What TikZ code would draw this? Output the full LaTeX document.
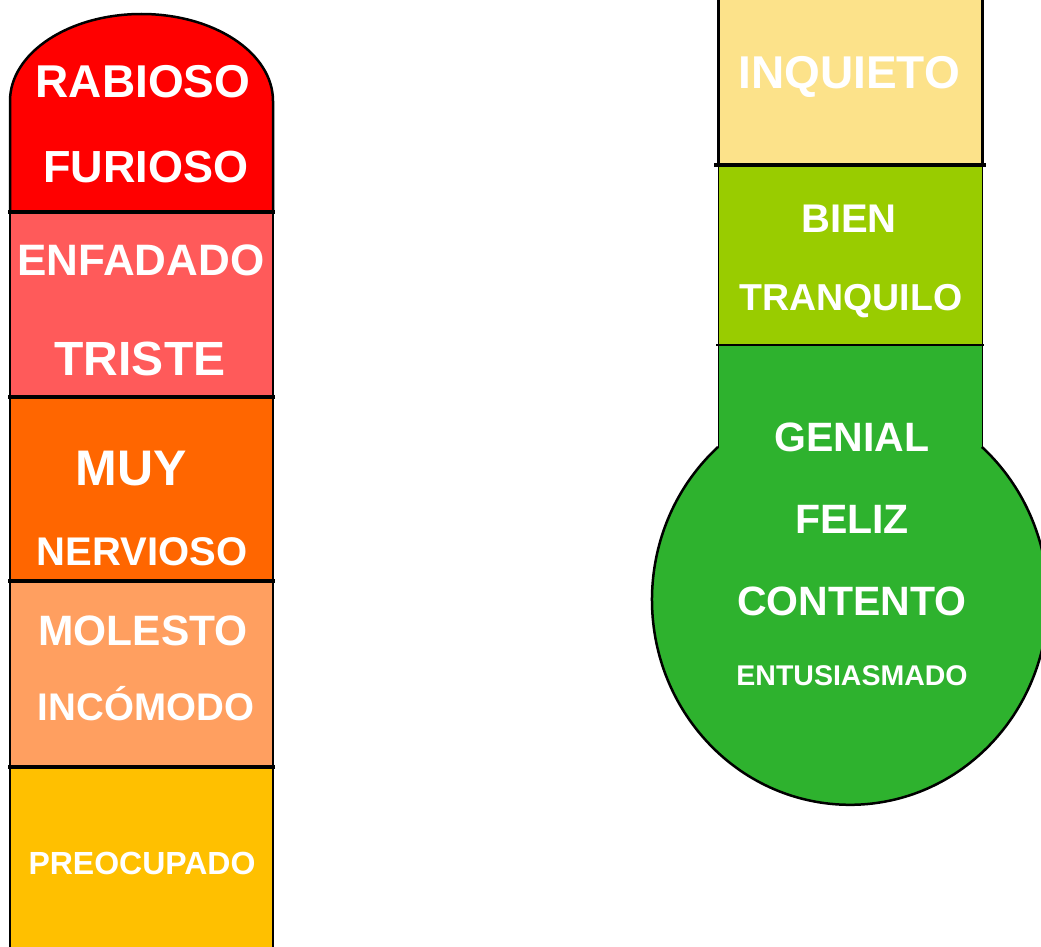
\documentclass[tikz,border=0pt]{standalone}
\usepackage{fontspec}
\setmainfont{Liberation Sans}
\definecolor{cRed}{HTML}{FF0000}
\definecolor{cSalmon}{HTML}{FF5A5A}
\definecolor{cOrange}{HTML}{FF6600}
\definecolor{cLightOrange}{HTML}{FF9F60}
\definecolor{cYellow}{HTML}{FFC000}
\definecolor{cPale}{HTML}{FCE28A}
\definecolor{cLime}{HTML}{99CC00}
\definecolor{cGreen}{HTML}{2EB22E}
\tikzset{
  word/.style={text=white, inner sep=0pt, anchor=base,
    font=\bfseries\fontsize{#1}{#1}\selectfont},
  thickdiv/.style={line width=4pt, black},
  thindiv/.style={line width=1.5pt, black},
  side/.style={line width=1.5pt, black},
}
\begin{document}
\begin{tikzpicture}[x=1pt,y=-1pt]
\useasboundingbox (0,0) rectangle (1041,947);
\fill[white] (0,0) rectangle (1041,947);
\begin{scope}
\clip (0,0) rectangle (1041,947);
% ---------- left thermometer ----------
\fill[cRed] (10,212) -- (10,101) arc[start angle=180, end angle=360, x radius=131.5, y radius=87] -- (273,212) -- cycle;
\draw[line width=2.5pt] (10,212) -- (10,101) arc[start angle=180, end angle=360, x radius=131.5, y radius=87] -- (273,212);
\fill[cSalmon] (10,212) rectangle (273,397);
\fill[cOrange] (10,397) rectangle (273,581);
\fill[cLightOrange] (10,581) rectangle (273,767);
\fill[cYellow] (10,767) rectangle (273,950);
\draw[line width=2.5pt] (10,212) -- (10,397) (273,212) -- (273,397);
\draw[side] (10,397) -- (10,950) (273,397) -- (273,950);
\draw[thickdiv] (8,212) -- (275,212);
\draw[thickdiv] (8,397) -- (275,397);
\draw[thickdiv] (8,581) -- (275,581);
\draw[thickdiv] (8,767) -- (275,767);
% ---------- right thermometer ----------
\fill[cPale] (718,-5) rectangle (982,165);
\fill[cLime] (718,165) rectangle (982,345);
\fill[cGreen] (718,345) rectangle (982,470);
\fill[cGreen] (850,600) ellipse[x radius=198, y radius=205];
\draw[line width=2.5pt] (718,447) arc[start angle=228.2, end angle=-48.2, x radius=198, y radius=205];
\draw[line width=3pt] (718,-5) -- (718,165) (982,-5) -- (982,165);
\draw[line width=1pt] (718,165) -- (718,448) (982,165) -- (982,448);
\draw[thickdiv] (714,165) -- (986,165);
\draw[thindiv] (716,345) -- (984,345);
\end{scope}
% ---------- words ----------
\node[word=46] (rabioso) at (143,98) {RABIOSO};
\node[word=45] (furioso) at (146,182) {FURIOSO};
\node[word=44] (enfadado) at (141,275) {ENFADADO};
\node[word=48] (triste) at (140,375) {TRISTE};
\node[word=50] (muy) at (131,485) {MUY};
\node[word=40] (nervioso) at (142,565) {NERVIOSO};
\node[word=42.5] (molesto) at (143,645) {MOLESTO};
\node[word=38.5] (incomodo) at (146,720) {INCÓMODO};
\node[word=32] (preocupado) at (142,874) {PREOCUPADO};
\node[word=46] (inquieto) at (849,89) {INQUIETO};
\node[word=40] (bien) at (849,232) {BIEN};
\node[word=37.5] (tranquilo) at (851,310) {TRANQUILO};
\node[word=41] (genial) at (852,451) {GENIAL};
\node[word=41] (feliz) at (852,533) {FELIZ};
\node[word=41] (contento) at (852,615) {CONTENTO};
\node[word=28.5] (entusiasmado) at (852,685) {ENTUSIASMADO};
\end{tikzpicture}
\end{document}
